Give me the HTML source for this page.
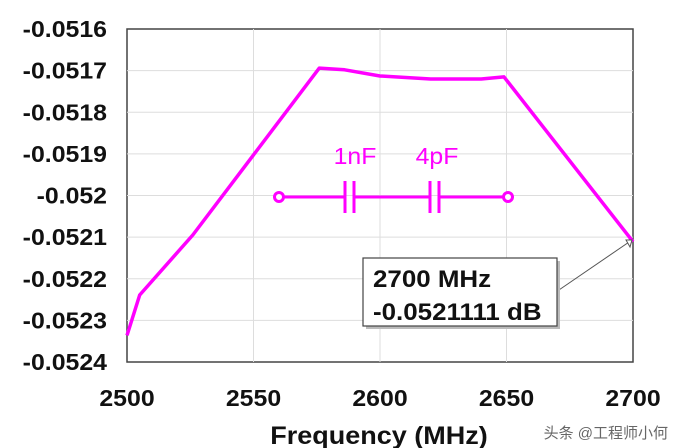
<!DOCTYPE html>
<html><head><meta charset="utf-8"><style>
body{margin:0;background:#fff}
svg{display:block;font-family:"Liberation Sans","Noto Sans CJK SC",sans-serif}
</style></head><body>
<svg id="c" width="674" height="448">
<rect x="127" y="29" width="506" height="333" fill="#fff" stroke="#444" stroke-width="1.5"/>
<g id="grid"></g><g id="ticks"></g>
<path id="curve" fill="none" stroke="#ff00ff" stroke-width="3.5" stroke-linejoin="round"/>
<g stroke="#ff00ff" stroke-width="3" fill="none">
<line x1="284" y1="197" x2="345" y2="197"/><line x1="355" y1="197" x2="429" y2="197"/><line x1="439" y1="197" x2="503" y2="197"/>
<line x1="345" y1="181" x2="345" y2="213"/><line x1="354" y1="181" x2="354" y2="213"/>
<line x1="430" y1="181" x2="430" y2="213"/><line x1="439" y1="181" x2="439" y2="213"/>
<circle cx="279" cy="197" r="4.5" fill="#fff"/><circle cx="508" cy="197" r="4.5" fill="#fff"/>
</g>
<text class="st" x="355" y="164" font-size="23" fill="#ff00ff" text-anchor="middle">1nF</text>
<text class="st" x="437" y="164" font-size="23" fill="#ff00ff" text-anchor="middle">4pF</text>
<g>
<line x1="556" y1="292" x2="632" y2="240" stroke="#555" stroke-width="1"/>
<polygon points="632,240 626,240 630,247" fill="#fff" stroke="#555"/>
<rect x="366" y="261" width="194" height="68" fill="#bbb"/>
<rect x="363" y="258" width="194" height="68" fill="#fff" stroke="#444" stroke-width="1.2"/>
<text class="st" x="373" y="287" font-size="24" font-weight="bold" fill="#111">2700 MHz</text>
<text class="st" x="373" y="320" font-size="24" font-weight="bold" fill="#111">-0.0521111 dB</text>
</g>
<text class="st" x="379" y="444" font-size="25" font-weight="bold" fill="#111" text-anchor="middle">Frequency (MHz)</text>
<text x="668" y="438" font-size="15" fill="#666" text-anchor="end">头条 @工程师小何</text>
</svg>
<script>
const freqs=[2500,2505,2526,2576,2586,2600,2620,2640,2649,2700];
const values=[-0.052336,-0.052239,-0.052095,-0.051694,-0.051698,-0.051713,-0.05172,-0.05172,-0.051715,-0.0521111];
const xTicks=[2500,2550,2600,2650,2700];
const yTicks=[-0.0516,-0.0517,-0.0518,-0.0519,-0.052,-0.0521,-0.0522,-0.0523,-0.0524];
const yLabels=["-0.0516","-0.0517","-0.0518","-0.0519","-0.052","-0.0521","-0.0522","-0.0523","-0.0524"];
const L=127,R=633,T=29,B=362;
const X=v=>L+(v-2500)/200*(R-L);
const Y=v=>T+(-0.0516-v)/0.0008*(B-T);
const ns="http://www.w3.org/2000/svg";
const g=document.getElementById('grid'),tk=document.getElementById('ticks');
xTicks.forEach((t,i)=>{
 if(i>0&&i<xTicks.length-1){const l=document.createElementNS(ns,'line');
 
 
 l.setAttribute('x1',X(t));l.setAttribute('x2',X(t));l.setAttribute('y1',T);l.setAttribute('y2',B);l.setAttribute('stroke','#ddd');g.appendChild(l);}
 const s=document.createElementNS(ns,'text');
 
 
 s.setAttribute('class','st');
 s.setAttribute('x',X(t));s.setAttribute('y',406);s.setAttribute('text-anchor','middle');s.setAttribute('font-size','23');s.setAttribute('font-weight','bold');s.setAttribute('fill','#111');s.textContent=t;tk.appendChild(s);
});
yTicks.forEach((t,i)=>{
 if(i>0&&i<yTicks.length-1){const l=document.createElementNS(ns,'line');
 
 
 l.setAttribute('x1',L);l.setAttribute('x2',R);l.setAttribute('y1',Y(t));l.setAttribute('y2',Y(t));l.setAttribute('stroke','#ddd');g.appendChild(l);}
 const s=document.createElementNS(ns,'text');
 
 
 s.setAttribute('class','st');
 s.setAttribute('x',107);s.setAttribute('y',Y(t)+8);s.setAttribute('text-anchor','end');s.setAttribute('font-size','23');s.setAttribute('font-weight','bold');s.setAttribute('fill','#111');s.textContent=yLabels[i];tk.appendChild(s);
});
document.getElementById('curve').setAttribute('d',freqs.map((f,i)=>(i?'L':'M')+X(f).toFixed(1)+','+Y(values[i]).toFixed(1)).join(''));
document.querySelectorAll('.st').forEach(el=>{const w=el.getComputedTextLength();el.setAttribute('textLength',(w*1.08).toFixed(1));el.setAttribute('lengthAdjust','spacingAndGlyphs');});
</script>
</body></html>
